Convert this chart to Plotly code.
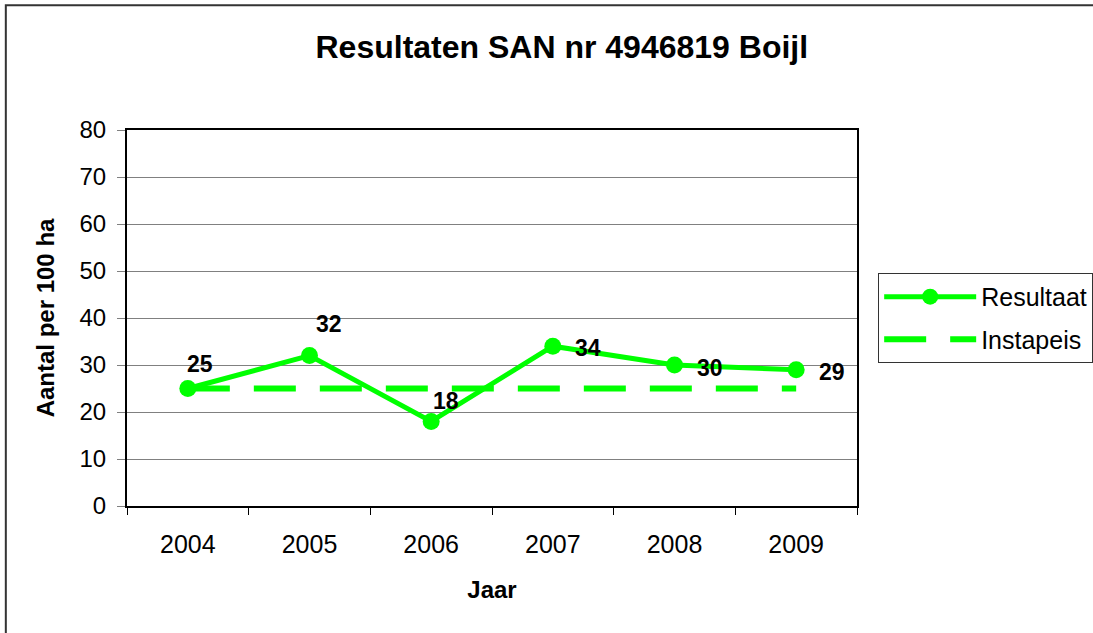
import plotly.graph_objects as go

# Jaarlijkse resultaten van de SAN-telling, Boijl
jaren = ["2004", "2005", "2006", "2007", "2008", "2009"]
resultaat = [25, 32, 18, 34, 30, 29]
instapeis = [25, 25, 25, 25, 25, 25]

# positie van de waardelabels t.o.v. het punt (px: rechts, omhoog)
label_dx = [12, 19, 15, 35, 35, 36]
label_dy = [25, 32, 20, -2, -3, -2]

y_ticks = [0, 10, 20, 30, 40, 50, 60, 70, 80]

GREEN = "#00FF00"
FONT = "Arial, Liberation Sans, sans-serif"

fig = go.Figure()

fig.add_trace(go.Scatter(
    x=jaren, y=instapeis, name="Instapeis", mode="lines",
    line=dict(color=GREEN, width=6, dash="42px,24px"),
    legendrank=2, legendgroup="b",
))
fig.add_trace(go.Scatter(
    x=jaren, y=resultaat, name="Resultaat", mode="lines+markers",
    line=dict(color=GREEN, width=5),
    marker=dict(color=GREEN, size=17),
    legendrank=1, legendgroup="a",
))

for i, (v, dx, dy) in enumerate(zip(resultaat, label_dx, label_dy)):
    fig.add_annotation(
        x=i, y=v, text=str(v), showarrow=False,
        xshift=dx, yshift=dy,
        font=dict(family=FONT, size=23, color="black", weight="bold"),
    )

fig.update_layout(
    width=1093, height=633,
    margin=dict(l=127, r=236, t=130, b=127, autoexpand=False),
    paper_bgcolor="white", plot_bgcolor="white",
    font=dict(family=FONT, color="black"),
    title=dict(
        text="<b>Resultaten SAN nr 4946819 Boijl</b>",
        font=dict(family=FONT, size=32, color="black"),
        x=0.514, xanchor="center", xref="container",
        y=1 - 47 / 633, yanchor="middle", yref="container",
    ),
    showlegend=True,
    legend=dict(
        x=1.029, xanchor="left", y=0.62, yanchor="top",
        bordercolor="#333333", borderwidth=1, bgcolor="white",
        font=dict(family=FONT, size=25, color="black"),
        itemwidth=92, tracegroupgap=7,
    ),
    xaxis=dict(
        type="category", categoryorder="array", categoryarray=jaren,
        range=[-0.5, len(jaren) - 0.5], autorange=False,
        tickson="boundaries",
        ticks="outside", ticklen=7, tickcolor="black",
        showline=True, linecolor="black", linewidth=2, mirror=True,
        showgrid=False, tickangle=0,
        tickfont=dict(family=FONT, size=25, color="black"),
        ticklabelstandoff=15,
        title=dict(text="<b>Jaar</b>", font=dict(family=FONT, size=24, color="black"), standoff=24),
    ),
    yaxis=dict(
        range=[0, 80], tickvals=y_ticks, autorange=False,
        ticks="outside", ticklen=8, tickcolor="#808080",
        showline=True, linecolor="black", linewidth=2, mirror=True,
        showgrid=True, gridcolor="#808080", gridwidth=1,
        zeroline=False,
        tickfont=dict(family=FONT, size=24, color="black"),
        ticklabelstandoff=6,
        title=dict(text="<b>Aantal per 100 ha</b>", font=dict(family=FONT, size=24, color="black"), standoff=18),
    ),
)

# kader rond de hele grafiek
fig.add_shape(
    type="rect", xref="paper", yref="paper",
    x0=-0.166, x1=1.4, y0=-0.4, y1=1.332,
    line=dict(color="#333333", width=2), layer="below",
)

fig.write_html("out.html")
